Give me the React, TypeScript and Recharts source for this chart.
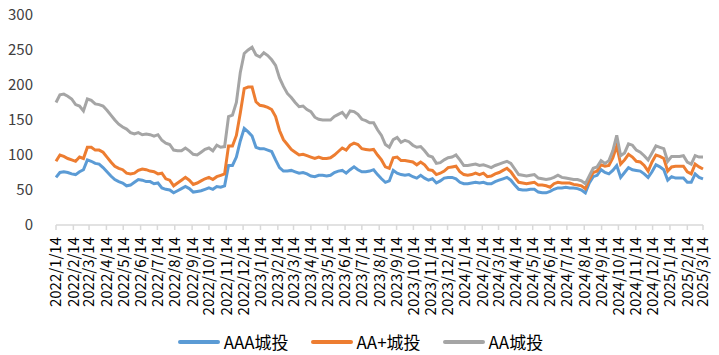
import { LineChart, Line, XAxis, YAxis, Legend } from 'recharts';

// weekly observations, first point 2022/1/14
const startDate = Date.UTC(2022, 0, 14);
const DAY = 86400000;

const aaa = [
  68, 75, 76, 75, 73, 72, 76, 79, 93, 91, 88, 87, 82, 76, 70, 65, 62, 60, 56, 57,
  61, 65, 64, 62, 62, 59, 60, 53, 51, 50, 46, 49, 52, 55, 52, 47, 48, 49, 51, 53,
  51, 55, 54, 56, 85, 85, 97, 120, 138, 133, 127, 111, 109, 109, 107, 105, 93, 82, 77, 77,
  78, 76, 74, 75, 73, 70, 69, 71, 71, 70, 71, 75, 77, 78, 74, 79, 83, 79, 76, 76,
  77, 79, 72, 66, 61, 63, 78, 74, 72, 71, 72, 69, 67, 71, 67, 64, 66, 60, 63, 67,
  68, 68, 66, 61, 59, 59, 60, 61, 60, 61, 59, 59, 62, 64, 66, 68, 64, 57, 51, 50,
  50, 51, 51, 47, 46, 46, 48, 51, 53, 53, 54, 53, 53, 52, 50, 46, 60, 69, 71, 79,
  75, 73, 78, 85, 68, 75, 82, 79, 78, 77, 73, 68, 76, 86, 83, 79, 64, 69, 67, 67,
  67, 61, 61, 73, 68, 66,
];

const aaPlus = [
  91, 100, 98, 95, 93, 91, 97, 95, 111, 111, 107, 107, 104, 97, 90, 84, 81, 79, 74, 73,
  74, 78, 80, 79, 77, 76, 73, 74, 66, 64, 56, 60, 64, 68, 64, 58, 60, 63, 66, 68,
  65, 69, 71, 73, 113, 113, 128, 160, 195, 197, 197, 176, 171, 170, 168, 165, 155, 135, 122, 115,
  108, 104, 100, 101, 99, 97, 95, 97, 95, 95, 96, 100, 105, 110, 107, 114, 117, 115, 109, 108,
  107, 108, 100, 93, 83, 81, 96, 97, 92, 92, 91, 90, 86, 90, 86, 79, 78, 72, 74, 77,
  82, 83, 84, 76, 72, 71, 72, 74, 72, 74, 69, 70, 73, 75, 78, 81, 76, 68, 61, 60,
  59, 60, 61, 57, 57, 56, 54, 59, 61, 60, 60, 60, 58, 57, 56, 52, 65, 75, 77, 86,
  84, 85, 96, 113, 87, 93, 101, 97, 91, 90, 85, 77, 90, 100, 98, 95, 77, 83, 84, 84,
  84, 76, 73, 87, 83, 80,
];

const aa = [
  175, 186, 187, 184, 180, 172, 170, 163, 180, 178, 173, 172, 170, 164, 157, 150, 144, 140, 137, 132,
  130, 132, 129, 130, 129, 127, 129, 121, 117, 115, 107, 106, 106, 110, 106, 101, 100, 104, 108, 110,
  106, 114, 111, 112, 155, 157, 175, 218, 245, 250, 254, 243, 240, 246, 242, 236, 228, 210, 198, 188,
  182, 175, 169, 170, 165, 162, 154, 151, 150, 150, 150, 155, 158, 161, 154, 163, 162, 158, 151, 149,
  146, 146, 136, 128, 115, 111, 122, 125, 118, 121, 119, 114, 111, 112, 106, 99, 97, 88, 89, 93,
  96, 97, 100, 93, 85, 85, 86, 87, 85, 86, 84, 82, 85, 87, 89, 91, 88, 80, 72, 71,
  70, 71, 72, 67, 66, 65, 66, 68, 71, 68, 67, 66, 65, 65, 63, 59, 70, 81, 83, 92,
  88, 92, 106, 128, 99, 103, 116, 114, 107, 104, 99, 93, 103, 113, 111, 109, 91, 98, 98, 98,
  99, 90, 87, 99, 97, 97,
];

const yTicks = [0, 50, 100, 150, 200, 250, 300];

const monthTicks: number[] = [];
const monthLabels: Record<number, string> = {};
for (let m = 0; m <= 38; m++) {
  const d = new Date(Date.UTC(2022, m, 14));
  const day = Math.round((d.getTime() - startDate) / DAY);
  monthTicks.push(day);
  monthLabels[day] = `${d.getUTCFullYear()}/${d.getUTCMonth() + 1}/${d.getUTCDate()}`;
}

const chartData = aaa.map((v, i) => ({
  day: i * 7,
  aaa: v,
  aaPlus: aaPlus[i],
  aa: aa[i],
}));

const series = [
  { key: 'aaa', name: 'AAA城投', color: '#5B9BD5' },
  { key: 'aaPlus', name: 'AA+城投', color: '#ED7D31' },
  { key: 'aa', name: 'AA城投', color: '#A5A5A5' },
];

const FONT = '"Noto Sans CJK SC", "Noto Sans", sans-serif';

function DateTick(props: any) {
  const { x, y, payload } = props;
  return (
    <g transform={`translate(${x},${y})`}>
      <text
        transform="rotate(-90)"
        x={-5}
        y={0}
        dy="0.36em"
        textAnchor="end"
        fontSize={15}
        fill="#000"
        fontFamily={FONT}
      >
        {monthLabels[payload.value]}
      </text>
    </g>
  );
}

function LegendRow() {
  return (
    <div style={{ display: 'flex', justifyContent: 'center', alignItems: 'center', fontFamily: FONT, fontSize: 17, color: '#000', paddingLeft: 10, paddingTop: 4 }}>
      {series.map((s, i) => (
        <div key={s.key} style={{ display: 'flex', alignItems: 'center', marginLeft: i === 0 ? 0 : 22 }}>
          <span style={{ display: 'inline-block', width: 42, height: 4, background: s.color, borderRadius: 2, marginRight: 4 }} />
          <span>{s.name}</span>
        </div>
      ))}
    </div>
  );
}

export default function App() {
  return (
    <div style={{ position: 'absolute', left: 0, top: 0, background: '#fff' }}>
      <LineChart width={719} height={355} data={chartData} margin={{ top: 15, right: 16, left: 8, bottom: 0 }}>
        <XAxis
          dataKey="day"
          type="number"
          domain={[0, 1155]}
          ticks={monthTicks}
          interval={0}
          height={100}
          tick={<DateTick />}
          tickSize={5}
          tickMargin={2}
          axisLine={{ stroke: '#D9D9D9', strokeWidth: 1.5 }}
          tickLine={{ stroke: '#D9D9D9', strokeWidth: 1.5 }}
        />
        <YAxis
          domain={[0, 300]}
          ticks={yTicks}
          width={48}
          axisLine={false}
          tickLine={false}
          tickSize={0}
          tickMargin={23}
          tick={{ fontSize: 15, fill: '#404040', fontFamily: FONT }}
        />
        <Legend verticalAlign="bottom" height={30} content={<LegendRow />} />
        {series.map((s) => (
          <Line
            key={s.key}
            type="linear"
            dataKey={s.key}
            name={s.name}
            stroke={s.color}
            strokeWidth={3}
            dot={false}
            activeDot={false}
            isAnimationActive={false}
          />
        ))}
      </LineChart>
    </div>
  );
}
